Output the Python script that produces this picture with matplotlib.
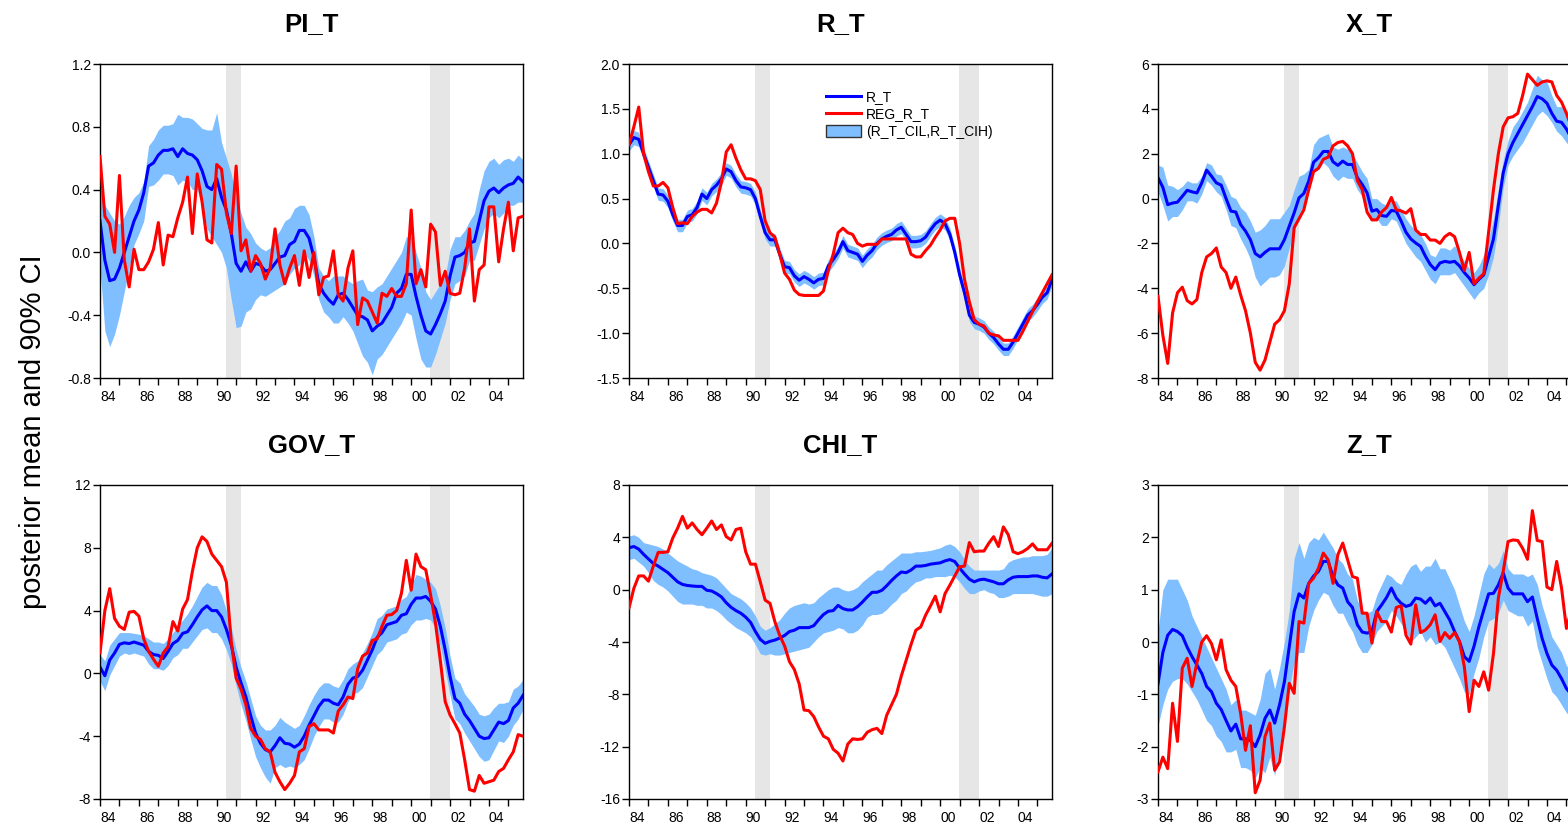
import numpy as np
import matplotlib
matplotlib.use("Agg")
import matplotlib.pyplot as plt
from matplotlib.lines import Line2D
from matplotlib.patches import Patch

plt.rcParams["font.family"] = ["Liberation Sans", "DejaVu Sans"]

# quarterly sample 1984Q1 - 2005Q4
quarters = 1984 + 0.25 * np.arange(88)
recessions = [(1990.47, 1991.27), (2000.95, 2002.0)]

# ── PI_T ─────────────────────────────────────────────────────────────────
pi_mean = [0.2, -0.05, -0.18, -0.17, -0.1, 0.0, 0.1, 0.2, 0.27, 0.38,
           0.55, 0.57, 0.62, 0.65, 0.65, 0.66, 0.61, 0.66, 0.63, 0.62,
           0.59, 0.52, 0.42, 0.40, 0.47, 0.35, 0.27, 0.12, -0.07, -0.12,
           -0.06, -0.12, -0.07, -0.08, -0.12, -0.11, -0.07, -0.03, -0.02, 0.05,
           0.07, 0.14, 0.14, 0.09, -0.03, -0.2, -0.26, -0.3, -0.33, -0.27,
           -0.26, -0.3, -0.35, -0.4, -0.41, -0.43, -0.5, -0.47, -0.45, -0.4,
           -0.35, -0.26, -0.23, -0.14, -0.14, -0.28, -0.4, -0.5, -0.52, -0.46,
           -0.39, -0.31, -0.15, -0.03, -0.02, 0.0, 0.06, 0.07, 0.2, 0.33,
           0.39, 0.41, 0.38, 0.41, 0.43, 0.44, 0.48, 0.45]
pi_reg = [0.61, 0.23, 0.18, 0.0, 0.49, -0.05, -0.22, 0.02, -0.11, -0.11,
          -0.06, 0.02, 0.19, -0.08, 0.11, 0.1, 0.22, 0.32, 0.48, 0.12,
          0.5, 0.32, 0.08, 0.06, 0.56, 0.53, 0.25, 0.12, 0.55, 0.01,
          0.08, -0.12, -0.02, -0.07, -0.17, -0.1, 0.15, -0.08, -0.2, -0.1,
          -0.02, -0.21, 0.01, -0.16, 0.0, -0.27, -0.16, -0.15, 0.01, -0.27,
          -0.31, -0.1, 0.01, -0.46, -0.29, -0.31, -0.38, -0.45, -0.26, -0.28,
          -0.23, -0.28, -0.28, -0.2, 0.27, -0.2, -0.11, -0.22, 0.18, 0.13,
          -0.21, -0.12, -0.26, -0.27, -0.26, -0.1, 0.15, -0.31, -0.11, -0.08,
          0.29, 0.29, -0.06, 0.15, 0.32, 0.01, 0.22, 0.23]
pi_hi = [0.42, 0.3, 0.25, 0.2, 0.18, 0.23, 0.3, 0.35, 0.38, 0.45,
         0.68, 0.72, 0.78, 0.81, 0.81, 0.82, 0.88, 0.86, 0.86, 0.85,
         0.82, 0.79, 0.78, 0.78, 0.89, 0.7, 0.6, 0.5, 0.35, 0.25,
         0.16, 0.12, 0.06, 0.03, 0.01, 0.03, 0.1, 0.14, 0.2, 0.22,
         0.28, 0.3, 0.3, 0.24, 0.1, -0.1, -0.15, -0.18, -0.15, -0.15,
         -0.15, -0.18, -0.2, -0.18, -0.17, -0.24, -0.25, -0.22, -0.2, -0.15,
         -0.1, -0.05, 0.0, 0.1, 0.1, 0.0, -0.1, -0.25, -0.3, -0.25,
         -0.2, -0.15, 0.02, 0.1, 0.1, 0.14, 0.2, 0.25, 0.4, 0.52,
         0.58, 0.6, 0.56, 0.59, 0.6, 0.58, 0.62, 0.59]
pi_lo = [-0.1, -0.5, -0.6, -0.52, -0.4, -0.25, -0.1, 0.05, 0.12, 0.2,
         0.42, 0.43, 0.46, 0.5, 0.5, 0.49, 0.43, 0.46, 0.45, 0.4,
         0.4, 0.3, 0.15, 0.1, 0.05, 0.0, -0.1, -0.3, -0.48, -0.47,
         -0.38, -0.36, -0.3, -0.27, -0.28, -0.26, -0.24, -0.22, -0.2, -0.14,
         -0.1, -0.08, 0.0, -0.05, -0.15, -0.3, -0.38, -0.41, -0.45, -0.45,
         -0.41, -0.45, -0.5, -0.58, -0.66, -0.7, -0.78, -0.68, -0.65, -0.6,
         -0.55, -0.5, -0.45, -0.38, -0.4, -0.55, -0.68, -0.73, -0.73, -0.65,
         -0.55, -0.45, -0.3, -0.2, -0.18, -0.15, -0.05, -0.05, 0.05, 0.15,
         0.22, 0.25, 0.22, 0.25, 0.3, 0.3, 0.32, 0.32]

# ── R_T ──────────────────────────────────────────────────────────────────
r_mean = [1.1, 1.18, 1.16, 1.0, 0.85, 0.7, 0.55, 0.54, 0.47, 0.32,
          0.2, 0.2, 0.3, 0.32, 0.4, 0.55, 0.5, 0.6, 0.65, 0.72,
          0.83, 0.8, 0.7, 0.63, 0.62, 0.6, 0.5, 0.3, 0.12, 0.04,
          0.04, -0.12, -0.26, -0.27, -0.36, -0.41, -0.37, -0.4, -0.44, -0.4,
          -0.39, -0.25, -0.18, -0.1, 0.02, -0.08, -0.1, -0.12, -0.2, -0.13,
          -0.08, 0.0, 0.05, 0.08, 0.1, 0.15, 0.18, 0.1, 0.02, 0.02,
          0.03, 0.07, 0.15, 0.22, 0.26, 0.22, 0.1, -0.1, -0.35, -0.55,
          -0.8, -0.88, -0.9, -0.93, -1.0, -1.05, -1.12, -1.18, -1.18, -1.1,
          -1.0, -0.9, -0.8, -0.75, -0.68, -0.6, -0.55, -0.4]
r_reg = [1.1, 1.3, 1.52, 1.0, 0.8, 0.64, 0.64, 0.68, 0.62, 0.4,
         0.22, 0.23, 0.22, 0.3, 0.35, 0.38, 0.38, 0.34, 0.45, 0.68,
         1.02, 1.1, 0.95, 0.82, 0.72, 0.72, 0.7, 0.6, 0.25, 0.12,
         0.07, -0.12, -0.33, -0.4, -0.52, -0.57, -0.58, -0.58, -0.58, -0.58,
         -0.53, -0.3, -0.12, 0.12, 0.17, 0.12, 0.1, 0.0, -0.03, -0.01,
         -0.01, -0.01, 0.05, 0.05, 0.05, 0.05, 0.05, 0.05, -0.12, -0.15,
         -0.15, -0.08, -0.02, 0.07, 0.15, 0.25, 0.28, 0.28, 0.0, -0.4,
         -0.65, -0.85, -0.9, -0.92, -1.0, -1.02, -1.03, -1.08, -1.08, -1.08,
         -1.08, -0.98, -0.87, -0.76, -0.65, -0.55, -0.45, -0.35]
r_hi = [1.17, 1.26, 1.24, 1.07, 0.92, 0.77, 0.62, 0.61, 0.54, 0.39,
        0.27, 0.27, 0.37, 0.39, 0.47, 0.62, 0.57, 0.67, 0.72, 0.79,
        0.9, 0.87, 0.77, 0.7, 0.69, 0.67, 0.57, 0.37, 0.19, 0.11,
        0.11, -0.05, -0.19, -0.2, -0.29, -0.34, -0.3, -0.33, -0.37, -0.33,
        -0.32, -0.18, -0.11, -0.03, 0.09, -0.01, -0.03, -0.05, -0.13, -0.06,
        -0.01, 0.07, 0.12, 0.15, 0.17, 0.22, 0.25, 0.17, 0.09, 0.09,
        0.1, 0.14, 0.22, 0.29, 0.33, 0.29, 0.17, -0.03, -0.28, -0.48,
        -0.73, -0.81, -0.83, -0.86, -0.93, -0.98, -1.05, -1.11, -1.11, -1.03,
        -0.93, -0.83, -0.73, -0.68, -0.61, -0.53, -0.48, -0.32]
r_lo = [1.03, 1.1, 1.08, 0.93, 0.78, 0.63, 0.48, 0.47, 0.4, 0.25,
        0.13, 0.13, 0.23, 0.25, 0.33, 0.48, 0.43, 0.53, 0.58, 0.65,
        0.76, 0.73, 0.63, 0.56, 0.55, 0.53, 0.43, 0.23, 0.05, -0.03,
        -0.03, -0.19, -0.33, -0.34, -0.43, -0.48, -0.44, -0.47, -0.51, -0.47,
        -0.46, -0.32, -0.25, -0.17, -0.05, -0.15, -0.17, -0.19, -0.27, -0.2,
        -0.15, -0.07, -0.02, 0.01, 0.03, 0.08, 0.11, 0.03, -0.05, -0.05,
        -0.04, 0.0, 0.08, 0.15, 0.19, 0.15, 0.03, -0.17, -0.42, -0.62,
        -0.87, -0.95, -0.97, -1.0, -1.07, -1.12, -1.19, -1.25, -1.25, -1.17,
        -1.07, -0.97, -0.87, -0.82, -0.75, -0.67, -0.62, -0.47]

# ── X_T ──────────────────────────────────────────────────────────────────
x_mean = [0.93, 0.5, -0.27, -0.2, -0.16, 0.1, 0.37, 0.3, 0.25, 0.7,
          1.27, 1.0, 0.7, 0.6, 0.0, -0.56, -0.6, -1.16, -1.45, -1.83,
          -2.45, -2.6, -2.4, -2.24, -2.24, -2.24, -1.83, -1.23, -0.64, 0.03,
          0.23, 0.78, 1.62, 1.82, 2.1, 2.1, 1.64, 1.48, 1.67, 1.52,
          1.52, 0.93, 0.63, 0.26, -0.56, -0.49, -0.76, -0.79, -0.53, -0.56,
          -1.0, -1.5, -1.8, -1.98, -2.13, -2.57, -2.94, -3.17, -2.87, -2.8,
          -2.84, -2.8, -3.0, -3.3, -3.54, -3.84, -3.6, -3.4, -2.6, -1.8,
          -0.3, 1.15, 2.0, 2.5, 2.9, 3.3, 3.7, 4.1, 4.55, 4.45,
          4.25, 3.8, 3.45, 3.4, 3.1, 2.7, 2.4, 2.2]
x_reg = [-4.36, -6.1, -7.35, -5.1, -4.2, -3.95, -4.55, -4.7, -4.5, -3.3,
         -2.6, -2.45, -2.2, -3.05, -3.3, -4.0, -3.5, -4.3, -5.0, -6.0,
         -7.3, -7.65, -7.2, -6.4, -5.6, -5.4, -5.0, -3.8, -1.3, -0.9,
         -0.5, 0.4, 1.2, 1.35, 1.75, 1.85, 2.35, 2.5, 2.55, 2.35,
         2.0, 0.8, 0.4, -0.6, -0.95, -0.95, -0.6, -0.4, 0.05, -0.5,
         -0.55, -0.65, -0.45, -1.4, -1.6, -1.6, -1.85, -1.85, -2.0, -1.7,
         -1.55, -1.7, -2.4, -3.2, -2.4, -3.8, -3.55, -3.35, -1.5, 0.4,
         2.0, 3.2, 3.6, 3.65, 3.8, 4.6, 5.55, 5.3, 5.05, 5.2,
         5.25, 5.2, 4.6, 4.3, 3.8, 3.2, 2.8, 2.6]
x_hi = [1.5, 1.4, 0.6, 0.55, 0.4, 0.55, 0.8, 0.7, 0.7, 1.0,
        1.6, 1.5, 1.1, 1.05, 0.6, 0.1, 0.0, -0.4, -0.6, -1.0,
        -1.5, -1.4, -1.2, -0.9, -0.9, -0.9, -0.6, -0.3, 0.4, 1.0,
        1.1, 1.3, 2.4, 2.7, 2.8, 2.9, 2.3, 2.2, 2.3, 2.2,
        2.0, 1.6, 1.2, 0.9, 0.0, 0.0, -0.2, -0.3, -0.1, -0.1,
        -0.5, -0.9, -1.2, -1.4, -1.6, -2.0, -2.5, -2.6, -2.2, -2.2,
        -2.3, -2.1, -2.5, -2.8, -3.1, -3.3, -3.0, -2.5, -1.8, -0.9,
        0.4, 1.7, 2.6, 3.2, 3.5, 3.9, 4.3, 4.9, 5.5, 5.3,
        5.2, 4.6, 4.1, 4.1, 3.7, 3.3, 3.0, 2.8]
x_lo = [0.3, -0.3, -1.0, -0.8, -0.8, -0.5, -0.1, -0.1, -0.2, 0.2,
        0.8, 0.6, 0.3, 0.1, -0.5, -1.2, -1.3, -1.8, -2.2, -2.7,
        -3.5, -3.9, -3.7, -3.5, -3.5, -3.4, -3.0, -2.2, -1.4, -0.7,
        -0.3, 0.4, 1.2, 1.3, 1.6, 1.4, 1.0, 0.8, 1.0, 0.9,
        0.9, 0.4, 0.1, -0.3, -1.0, -0.9, -1.2, -1.2, -0.9, -1.0,
        -1.5, -2.0, -2.3, -2.6, -2.8, -3.2, -3.6, -3.8, -3.4, -3.4,
        -3.4, -3.3, -3.6, -3.9, -4.2, -4.5, -4.2, -4.0, -3.4, -2.6,
        -1.2, 0.5, 1.5, 1.9, 2.2, 2.5, 2.9, 3.3, 3.7, 3.9,
        3.7, 3.4, 3.0, 2.8, 2.5, 2.2, 1.9, 1.7]

# ── GOV_T ────────────────────────────────────────────────────────────────
gov_mean = [0.4, -0.15, 0.85, 1.3, 1.85, 1.95, 1.9, 2.0, 1.9, 1.8,
            1.4, 1.2, 1.15, 0.95, 1.4, 1.9, 2.1, 2.55, 2.65, 3.1,
            3.6, 4.05, 4.3, 4.0, 4.0, 3.6, 2.8, 1.8, 0.4, -0.6,
            -1.5, -2.7, -3.8, -4.45, -4.85, -5.0, -4.6, -4.1, -4.45, -4.5,
            -4.7, -4.5, -4.0, -3.3, -2.7, -2.1, -1.7, -1.7, -1.9, -2.0,
            -1.5, -0.7, -0.3, -0.2, 0.2, 0.85, 1.5, 2.3, 2.6, 3.1,
            3.2, 3.3, 3.7, 3.8, 4.4, 4.8, 4.8, 4.9, 4.6, 4.1,
            3.0, 1.5, -0.2, -1.6, -1.9, -2.6, -3.0, -3.5, -4.0, -4.15,
            -4.1, -3.6, -3.1, -3.2, -3.0, -2.2, -1.9, -1.4]
gov_reg = [1.3, 4.0, 5.4, 3.5, 3.0, 2.8, 3.9, 3.95, 3.65, 2.2,
           1.4, 0.9, 0.45, 1.3, 1.7, 3.3, 2.7, 4.1, 4.7, 6.5,
           8.0, 8.7, 8.4, 7.6, 7.2, 6.8, 5.8, 2.0, -0.3, -1.0,
           -2.0, -3.5, -4.0, -4.2, -4.8, -5.0, -6.3, -6.9, -7.4, -7.0,
           -6.5, -5.0, -4.8, -3.4, -3.2, -3.6, -3.6, -3.6, -3.8, -2.4,
           -2.0, -1.5, -1.6, 0.3, 1.1, 1.3, 2.1, 2.2, 3.0, 3.7,
           3.75, 4.0, 5.1, 7.2, 5.3, 7.6, 6.8, 6.6, 5.0, 3.2,
           0.8, -1.8, -2.65, -3.2, -3.8, -5.5, -7.4, -7.5, -6.5, -7.0,
           -6.9, -6.8, -6.25, -6.05, -5.5, -5.0, -3.9, -4.0]
gov_hi = [1.2, 0.8, 1.8, 2.2, 2.6, 2.6, 2.6, 2.55, 2.5, 2.4,
          2.2, 2.0, 2.0, 1.9, 2.2, 2.6, 3.0, 3.4, 3.8, 4.3,
          4.9, 5.5, 5.8, 5.6, 5.6, 5.0, 4.0, 2.9, 1.5, 0.4,
          -0.5, -1.6, -2.7, -3.3, -3.6, -3.6, -3.3, -2.8, -3.1, -3.3,
          -3.5, -3.3, -2.7, -2.0, -1.4, -0.9, -0.6, -0.6, -0.8, -0.9,
          -0.4, 0.3, 0.6, 0.8, 1.3, 1.9, 2.6, 3.5, 3.7, 4.1,
          4.2, 4.3, 4.7, 4.9, 5.6, 6.3, 6.2, 6.0, 5.8, 5.4,
          4.3, 2.9, 1.1, -0.3, -0.6, -1.3, -1.7, -2.1, -2.6, -2.7,
          -2.6, -2.2, -1.9, -1.9, -1.8, -1.0, -0.8, -0.4]
gov_lo = [-0.5, -1.1, -0.1, 0.5, 1.1, 1.3, 1.2, 1.3, 1.2, 1.1,
          0.6, 0.3, 0.3, 0.2, 0.5, 1.0, 1.2, 1.6, 1.6, 2.0,
          2.4, 2.8, 2.9, 2.6, 2.6, 2.2, 1.5, 0.6, -0.8, -2.0,
          -3.0, -4.2, -5.3, -6.0, -6.6, -7.0, -6.0, -5.8, -6.0, -5.9,
          -6.0, -5.8, -5.5, -4.8, -4.0, -3.4, -2.9, -2.9, -3.1, -3.1,
          -2.6, -1.8, -1.3, -1.2, -0.9, -0.2, 0.5, 1.2, 1.5, 2.0,
          2.1, 2.2, 2.5, 2.6, 3.1, 3.4, 3.4, 3.5, 3.4, 2.9,
          1.7, 0.2, -1.4, -2.9, -3.2, -3.8, -4.3, -4.8, -5.3, -5.6,
          -5.5, -4.9, -4.3, -4.4, -4.0, -3.3, -2.9, -2.3]

# ── CHI_T ────────────────────────────────────────────────────────────────
chi_mean = [3.2, 3.3, 3.1, 2.7, 2.35, 2.0, 1.8, 1.55, 1.3, 0.95,
            0.6, 0.4, 0.32, 0.28, 0.25, 0.25, -0.05, -0.1, -0.3, -0.55,
            -1.0, -1.35, -1.6, -1.8, -2.1, -2.5, -3.2, -3.8, -4.1, -3.95,
            -3.85, -3.7, -3.5, -3.2, -3.1, -2.9, -2.9, -2.9, -2.75, -2.3,
            -1.9, -1.65, -1.6, -1.2, -1.45, -1.55, -1.55, -1.3, -0.95, -0.55,
            -0.2, -0.2, -0.05, 0.3, 0.7, 1.05, 1.35, 1.3, 1.5, 1.8,
            1.8, 1.85, 1.95, 2.0, 2.05, 2.2, 2.3, 2.15, 1.65, 1.2,
            0.8, 0.6, 0.75, 0.8, 0.7, 0.6, 0.45, 0.45, 0.75, 0.95,
            1.0, 1.0, 1.0, 1.05, 1.05, 0.95, 0.9, 1.2]
chi_reg = [-1.4, 0.1, 1.05, 1.05, 0.65, 1.8, 2.85, 2.85, 2.9, 3.95,
           4.7, 5.6, 4.7, 5.1, 4.6, 4.2, 4.7, 5.25, 4.6, 4.95,
           4.05, 3.8, 4.6, 4.7, 2.9, 1.95, 1.95, 0.6, -0.8, -1.05,
           -2.45, -3.5, -4.3, -5.5, -6.1, -7.2, -9.2, -9.25, -9.7, -10.5,
           -11.2, -11.4, -12.2, -12.5, -13.1, -11.8, -11.4, -11.45, -11.4, -10.9,
           -10.7, -10.6, -11.0, -9.6, -8.8, -8.0, -6.6, -5.4, -4.2, -3.1,
           -2.85, -1.95, -1.25, -0.5, -1.7, -0.3, 0.35, 1.05, 1.75, 1.8,
           3.6, 2.9, 2.95, 2.95, 3.55, 4.05, 3.3, 4.8, 4.2, 2.9,
           2.75, 2.9, 3.15, 3.5, 3.05, 3.05, 3.05, 3.55]
chi_hi = [4.1, 4.2, 4.0, 3.6, 3.5, 3.4, 3.3, 3.1, 2.8, 2.5,
          2.2, 2.0, 1.8, 1.6, 1.5, 1.3, 1.2, 1.1, 0.9, 0.5,
          0.1, -0.3, -0.5, -0.7, -1.0, -1.4, -2.0, -2.8, -3.1, -2.9,
          -2.6, -2.3, -1.8, -1.4, -1.2, -1.1, -1.0, -1.1, -1.0, -0.6,
          -0.3, 0.0, 0.2, 0.2, 0.0, -0.1, 0.0, 0.2, 0.6, 0.9,
          1.2, 1.5, 1.5, 1.9, 2.2, 2.5, 2.8, 2.8, 2.8, 2.9,
          2.9, 2.95, 3.0, 3.1, 3.2, 3.4, 3.5, 3.3, 2.9, 2.3,
          1.8, 1.5, 1.5, 1.5, 1.5, 1.5, 1.5, 1.6, 2.1, 2.3,
          2.4, 2.5, 2.5, 2.6, 2.6, 2.6, 2.7, 3.2]
chi_lo = [2.3, 2.4, 2.1, 1.8, 1.3, 0.7, 0.4, 0.2, -0.1, -0.5,
          -0.9, -1.1, -1.1, -1.1, -1.2, -1.2, -1.4, -1.4, -1.6, -1.9,
          -2.3, -2.6, -2.9, -3.1, -3.3, -3.6, -4.2, -4.9, -5.0, -4.9,
          -5.0, -5.0, -4.9, -4.8, -4.7, -4.6, -4.5, -4.4, -4.0, -3.6,
          -3.3, -3.2, -3.1, -2.9, -3.0, -3.3, -3.3, -3.1, -2.7, -2.1,
          -1.9, -1.9, -1.8, -1.5, -1.1, -0.8, -0.3, -0.1, 0.3, 0.6,
          0.7, 0.9, 0.9, 1.0, 1.0, 1.0, 1.1, 1.0, 0.6, 0.1,
          -0.3, -0.3, -0.1, 0.0, -0.2, -0.3, -0.6, -0.6, -0.5, -0.3,
          -0.3, -0.3, -0.3, -0.3, -0.4, -0.5, -0.5, -0.3]

# ── Z_T ──────────────────────────────────────────────────────────────────
z_mean = [-0.8, -0.2, 0.13, 0.24, 0.2, 0.12, -0.1, -0.28, -0.44, -0.6,
          -0.85, -0.95, -1.17, -1.29, -1.5, -1.7, -1.57, -1.85, -1.85, -1.88,
          -2.0, -1.78, -1.46, -1.3, -1.55, -1.2, -0.76, -0.09, 0.58, 0.92,
          0.84, 1.12, 1.26, 1.35, 1.54, 1.54, 1.25, 1.09, 1.03, 0.77,
          0.66, 0.33, 0.19, 0.17, 0.2, 0.58, 0.71, 0.85, 1.03, 0.84,
          0.74, 0.68, 0.71, 0.84, 0.82, 0.74, 0.84, 0.69, 0.74, 0.58,
          0.42, 0.2, 0.01, -0.28, -0.37, -0.08, 0.29, 0.61, 0.92, 0.93,
          1.09, 1.32, 1.03, 0.92, 0.92, 0.92, 0.77, 0.86, 0.45, 0.07,
          -0.22, -0.44, -0.54, -0.7, -0.89, -1.0, -1.1, -1.15]
z_reg = [-2.48, -2.2, -2.42, -1.17, -1.9, -0.5, -0.31, -0.85, -0.4, 0.0,
         0.12, -0.03, -0.34, 0.04, -0.53, -0.73, -0.85, -1.37, -2.07, -1.6,
         -2.88, -2.64, -1.81, -1.55, -2.45, -2.29, -1.62, -0.79, -0.98, 0.39,
         0.36, 1.12, 1.22, 1.41, 1.7, 1.57, 1.12, 1.67, 1.89, 1.57,
         1.25, 1.22, 0.55, 0.55, -0.02, 0.58, 0.39, 0.39, 0.19, 0.66,
         0.69, 0.13, -0.04, 0.71, 0.18, 0.23, 0.33, 0.52, 0.01, 0.18,
         0.07, 0.18, 0.01, -0.47, -1.33, -0.73, -0.85, -0.57, -0.92, -0.22,
         0.84, 1.35, 1.92, 1.95, 1.94, 1.79, 1.58, 2.51, 1.94, 1.92,
         1.05, 1.0, 1.54, 1.03, 0.26, 0.6, 0.3, 0.2]
z_hi = [0.2, 1.0, 1.2, 1.2, 1.2, 1.0, 0.8, 0.5, 0.3, 0.1,
        -0.1, -0.3, -0.5, -0.7, -0.9, -1.2, -1.1, -1.3, -1.3, -1.35,
        -1.4, -1.1, -0.6, -0.5, -0.9, -0.5, 0.0, 0.6, 1.6, 1.9,
        1.6, 1.9, 2.0, 1.95, 2.1, 1.95, 1.8, 1.6, 1.5, 1.3,
        1.2, 0.8, 0.6, 0.55, 0.6, 0.9, 1.1, 1.3, 1.25, 1.15,
        1.1, 1.3, 1.45, 1.5, 1.35, 1.45, 1.45, 1.6, 1.4, 1.4,
        1.2, 1.0, 0.7, 0.4, 0.2, 0.5, 0.9, 1.3, 1.5, 1.4,
        1.5, 1.75, 1.4, 1.3, 1.3, 1.3, 1.25, 1.3, 1.1, 0.7,
        0.4, 0.1, -0.05, -0.2, -0.45, -0.55, -0.65, -0.7]
z_lo = [-1.6, -1.2, -0.9, -0.75, -0.7, -0.7, -0.8, -0.95, -1.1, -1.3,
        -1.5, -1.6, -1.8, -1.9, -2.1, -2.1, -2.05, -2.4, -2.4, -2.45,
        -2.6, -2.4, -2.5, -2.2, -2.55, -2.0, -1.4, -0.9, -0.4, -0.2,
        -0.2, 0.3, 0.6, 0.8, 0.95, 0.9, 0.7, 0.55, 0.55, 0.35,
        0.2, -0.05, -0.2, -0.2, -0.05, 0.2, 0.3, 0.4, 0.6, 0.5,
        0.35, 0.2, 0.0, 0.1, 0.2, 0.0, 0.1, -0.05, 0.0, -0.1,
        -0.3, -0.5, -0.7, -0.95, -1.0, -0.6, -0.3, 0.1, 0.4, 0.45,
        0.55, 0.8, 0.6, 0.55, 0.5, 0.5, 0.3, 0.4, -0.1, -0.4,
        -0.7, -0.95, -1.05, -1.2, -1.35, -1.45, -1.55, -1.6]

panels = [
    ("PI_T", pi_mean, pi_reg, pi_lo, pi_hi, [-0.8, -0.4, 0.0, 0.4, 0.8, 1.2], "%.1f"),
    ("R_T", r_mean, r_reg, r_lo, r_hi, [-1.5, -1.0, -0.5, 0.0, 0.5, 1.0, 1.5, 2.0], "%.1f"),
    ("X_T", x_mean, x_reg, x_lo, x_hi, [-8, -6, -4, -2, 0, 2, 4, 6], "%d"),
    ("GOV_T", gov_mean, gov_reg, gov_lo, gov_hi, [-8, -4, 0, 4, 8, 12], "%d"),
    ("CHI_T", chi_mean, chi_reg, chi_lo, chi_hi, [-16, -12, -8, -4, 0, 4, 8], "%d"),
    ("Z_T", z_mean, z_reg, z_lo, z_hi, [-3, -2, -1, 0, 1, 2, 3], "%d"),
]

BLUE = "#0000ff"
RED = "#ff0000"
BAND = "#80bfff"
SHADE = "#e6e6e6"

W, H = 1568, 825
fig = plt.figure(figsize=(W / 100, H / 100), dpi=100)

col_left = [100, 629, 1158]
row_top = [64, 485]
ax_w, ax_h = 423, 314

years = list(range(1984, 2006))
year_labels = ["%02d" % (y % 100) if y % 2 == 0 else "" for y in years]

for k, (name, mean, reg, lo, hi, yticks, fmt) in enumerate(panels):
    r, c = divmod(k, 3)
    left = col_left[c]
    top = row_top[r]
    ax = fig.add_axes([left / W, 1 - (top + ax_h) / H, ax_w / W, ax_h / H])

    for a, b in recessions:
        ax.axvspan(a, b, color=SHADE, lw=0, zorder=0)
    ax.fill_between(quarters, lo, hi, color=BAND, lw=0, zorder=1)
    ax.plot(quarters, mean, color=BLUE, lw=2.2, zorder=2)
    ax.plot(quarters, reg, color=RED, lw=2.2, zorder=3)

    ax.set_xlim(1984.0, 2005.75)
    ax.set_ylim(yticks[0], yticks[-1])
    ax.set_yticks(yticks)
    ax.set_yticklabels([fmt % v for v in yticks])
    ax.set_xticks(years)
    ax.set_xticklabels(year_labels, ha="left")
    ax.tick_params(direction="out", length=5, width=1, labelsize=10,
                   colors="black")
    ax.tick_params(axis="x", pad=3.5)
    ax.tick_params(axis="y", pad=1.5)
    for sp in ax.spines.values():
        sp.set_linewidth(1.0)
        sp.set_color("black")

    fig.text((left + ax_w / 2) / W, 1 - (top - 33) / H, name,
             ha="center", va="baseline", fontsize=18.5, fontweight="bold")

    if name == "R_T":
        handles = [Line2D([], [], color=BLUE, lw=2.2),
                   Line2D([], [], color=RED, lw=2.2),
                   Patch(facecolor=BAND, edgecolor="#333333", lw=1.0)]
        ax.legend(handles, ["R_T", "REG_R_T", "(R_T_CIL,R_T_CIH)"],
                  loc="upper left", bbox_to_anchor=(826 / W, 1 - 90 / H),
                  bbox_transform=fig.transFigure, frameon=False,
                  fontsize=10, handlelength=2.5, handleheight=0.9,
                  handletextpad=0.4, labelspacing=0.25,
                  borderpad=0, borderaxespad=0)

fig.text(33 / W, 1 - 432 / H, "posterior mean and 90% CI", rotation=90,
         ha="center", va="center", fontsize=21)

fig.savefig("out.png", dpi=100)
